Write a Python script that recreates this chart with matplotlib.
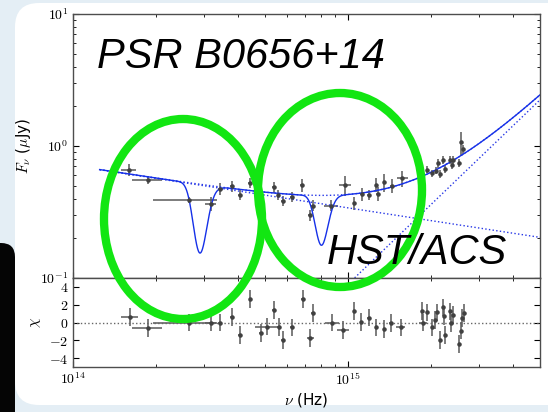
import numpy as np
import matplotlib
matplotlib.use("Agg")
import matplotlib.pyplot as plt
from matplotlib.patches import Ellipse, FancyBboxPatch
from matplotlib.ticker import FixedLocator, FixedFormatter, LogLocator, NullFormatter

plt.rcParams["mathtext.fontset"] = "cm"

# optical/UV photometry: frequency (1e14 Hz), half-width, flux (uJy), error
nu = [1.60, 1.87, 2.64, 3.17, 3.44, 3.78, 4.06, 4.40, 4.85, 5.38,
      5.59, 5.80, 6.25, 6.80, 7.27, 7.44, 8.67, 9.75, 10.54, 11.21,
      11.92, 12.70, 12.85, 13.52, 14.43, 15.78, 18.28, 19.43, 20.25, 20.90,
      21.30, 21.66, 22.21, 22.53, 23.50, 24.04, 23.84, 25.33, 25.70, 26.25]
nu_err = [0.10, 0.23, 0.69, 0.15, 0.06, 0.06, 0.06, 0.06, 0.07, 0.08,
          0.08, 0.08, 0.10, 0.10, 0.10, 0.10, 0.50, 0.48, 0.12, 0.12,
          0.15, 0.15, 0.15, 0.15, 0.20, 0.75, 0.45, 0.15, 0.15, 0.15,
          0.15, 0.15, 0.15, 0.15, 0.15, 0.15, 0.15, 0.15, 0.15, 0.15]
flux = [0.660, 0.555, 0.393, 0.366, 0.475, 0.496, 0.428, 0.524, 0.425, 0.488,
        0.428, 0.386, 0.414, 0.505, 0.298, 0.354, 0.354, 0.505, 0.370, 0.433,
        0.428, 0.509, 0.435, 0.532, 0.500, 0.570, 0.605, 0.660, 0.623, 0.649,
        0.741, 0.616, 0.785, 0.672, 0.785, 0.785, 0.720, 0.741, 1.066, 0.944]
flux_err = [0.070, 0.042, 0.020, 0.045, 0.050, 0.050, 0.040, 0.045, 0.040, 0.045,
            0.040, 0.035, 0.035, 0.060, 0.030, 0.035, 0.035, 0.090, 0.040, 0.050,
            0.040, 0.060, 0.050, 0.080, 0.060, 0.080, 0.040, 0.040, 0.040, 0.040,
            0.060, 0.040, 0.060, 0.050, 0.060, 0.060, 0.050, 0.050, 0.220, 0.070]

# fit residuals
res_nu = [1.607, 1.874, 2.641, 3.168, 3.434, 3.776, 4.036, 4.412, 4.814, 5.383,
          5.10, 5.60, 5.80, 6.27, 6.85, 7.31, 7.44, 8.79, 9.61, 10.52,
          11.15, 11.92, 12.70, 13.52, 14.30, 15.55, 18.62, 18.79, 19.43, 20.25,
          20.72, 21.18, 21.66, 22.21, 22.34, 22.65, 23.50, 23.69, 24.04, 25.33,
          25.76, 26.04, 26.42]
res_nu_err = [0.11, 0.24, 0.69, 0.15, 0.06, 0.06, 0.06, 0.06, 0.07, 0.08,
              0.50, 0.08, 0.08, 0.10, 0.10, 0.20, 0.10, 0.50, 0.45, 0.12,
              0.12, 0.15, 0.15, 0.15, 0.15, 0.55, 0.15, 0.60, 0.15, 0.15,
              0.15, 0.15, 0.15, 0.15, 0.15, 0.15, 0.15, 0.15, 0.15, 0.15,
              0.15, 0.15, 0.15]
res_chi = [0.60, -0.64, 0.00, 0.00, 0.00, 0.60, -1.40, 2.63, -1.20, 1.36,
           -0.45, -0.50, -1.97, -0.56, 2.63, -1.77, 1.05, 0.00, -0.83, 1.31,
           0.10, 0.56, -0.56, -0.72, -0.08, -0.56, 1.31, 0.00, 1.13, -0.56,
           0.30, 1.13, -1.96, 1.69, 0.68, -1.40, 1.24, -0.08, 0.86, -2.42,
           -0.90, 0.49, 1.05]

# spectral model: power law + Rayleigh-Jeans tail, two absorption features
pl_norm, pl_index = 0.34, -0.32      # uJy at 1e15 Hz
rj_norm, rj_index = 0.0895, 2.0      # uJy at 1e15 Hz
line_lam = [1.035, 0.374]            # micron
line_sigma = [0.059, 0.020]          # micron
line_tau = [1.20, 0.87]

nu_model = np.logspace(np.log10(1.25e14), np.log10(5e15), 2000)
x15 = nu_model / 1e15
power = pl_norm * x15 ** pl_index
thermal = rj_norm * x15 ** rj_index
cont = power + thermal
lam = 2.998e14 / nu_model
tau = np.zeros_like(nu_model)
for l0, s, t in zip(line_lam, line_sigma, line_tau):
    tau += t * np.exp(-0.5 * ((lam - l0) / s) ** 2)
model = cont * np.exp(-tau)

fig = plt.figure(figsize=(5.48, 4.12), dpi=100, facecolor="#e4eef5")

# slide backdrop
bg = fig.add_axes([0, 0, 1, 1], zorder=-5)
bg.set_xlim(0, 548)
bg.set_ylim(412, 0)
bg.axis("off")
bg.add_patch(FancyBboxPatch((-30, 243), 45, 200, boxstyle="round,pad=0,rounding_size=14",
                            facecolor="#050505", edgecolor="none"))
bg.add_patch(FancyBboxPatch((15, 3), 560, 402, boxstyle="round,pad=0,rounding_size=24",
                            facecolor="white", edgecolor="none"))

ax = fig.add_axes([73 / 548, 134 / 412, 467 / 548, 264 / 412])
axr = fig.add_axes([73 / 548, 45 / 412, 467 / 548, 89 / 412], sharex=ax)

ekw = dict(fmt=".", color="0.25", ecolor="0.35", elinewidth=1.1, markersize=4.5, capsize=0)
ax.errorbar(np.array(nu) * 1e14, flux, xerr=np.array(nu_err) * 1e14, yerr=flux_err, **ekw)
ax.plot(nu_model, power, ":", color="#2636e6", lw=1)
ax.plot(nu_model, thermal, ":", color="#2636e6", lw=1)
ax.plot(nu_model, cont, ":", color="#2636e6", lw=1)
ax.plot(nu_model, model, "-", color="#1530e8", lw=1)

ax.set_xscale("log")
ax.set_yscale("log")
ax.set_xlim(1e14, 5e15)
ax.set_ylim(0.1, 10)
ax.yaxis.set_major_locator(FixedLocator([0.1, 1, 10]))
ax.yaxis.set_major_formatter(FixedFormatter([r"$10^{-1}$", r"$10^{0}$", r"$10^{1}$"]))
ax.yaxis.set_minor_locator(LogLocator(base=10, subs=np.arange(2, 10)))
ax.yaxis.set_minor_formatter(NullFormatter())
ax.set_ylabel(r"$F_\nu$ ($\mu$Jy)", fontsize=11, labelpad=5)
plt.setp(ax.get_xticklabels(), visible=False)

axr.errorbar(np.array(res_nu) * 1e14, res_chi, xerr=np.array(res_nu_err) * 1e14,
             yerr=1.0, **ekw)
axr.axhline(0, color="0.4", ls=":", lw=1)
axr.set_ylim(-5, 5)
axr.yaxis.set_major_locator(FixedLocator([-4, -2, 0, 2, 4]))
axr.yaxis.set_major_formatter(FixedFormatter([r"$-4$", r"$-2$", r"$0$", r"$2$", r"$4$"]))
axr.xaxis.set_major_locator(FixedLocator([1e14, 1e15]))
axr.xaxis.set_major_formatter(FixedFormatter([r"$10^{14}$", r"$10^{15}$"]))
axr.xaxis.set_minor_locator(LogLocator(base=10, subs=np.arange(2, 10)))
axr.xaxis.set_minor_formatter(NullFormatter())
axr.set_ylabel(r"$\chi$", fontsize=11, labelpad=4)
axr.set_xlabel(r"$\nu$ (Hz)", fontsize=11, labelpad=2)

for a in (ax, axr):
    a.tick_params(which="both", direction="in", top=True, right=True, labelsize=10)
    a.tick_params(which="major", length=4)
    a.tick_params(which="minor", length=2)
    for s in a.spines.values():
        s.set_color("0.3")
        s.set_linewidth(1.0)

# annotations on top of everything
ov = fig.add_axes([0, 0, 1, 1], zorder=10)
ov.set_xlim(0, 548)
ov.set_ylim(412, 0)
ov.axis("off")
ov.patch.set_alpha(0)
ov.text(97, 68, "PSR B0656+14", fontsize=30, style="italic", family="Liberation Sans",
        ha="left", va="baseline")
ov.text(507, 264, "HST/ACS", fontsize=30, style="italic", family="Liberation Sans",
        ha="right", va="baseline")
green = "#12e612"
ov.add_patch(Ellipse((183, 219), 158, 200, fill=False, edgecolor=green, lw=6))
ov.add_patch(Ellipse((340, 190), 164, 194, fill=False, edgecolor=green, lw=6))

fig.savefig("out.png", dpi=100, facecolor=fig.get_facecolor())
